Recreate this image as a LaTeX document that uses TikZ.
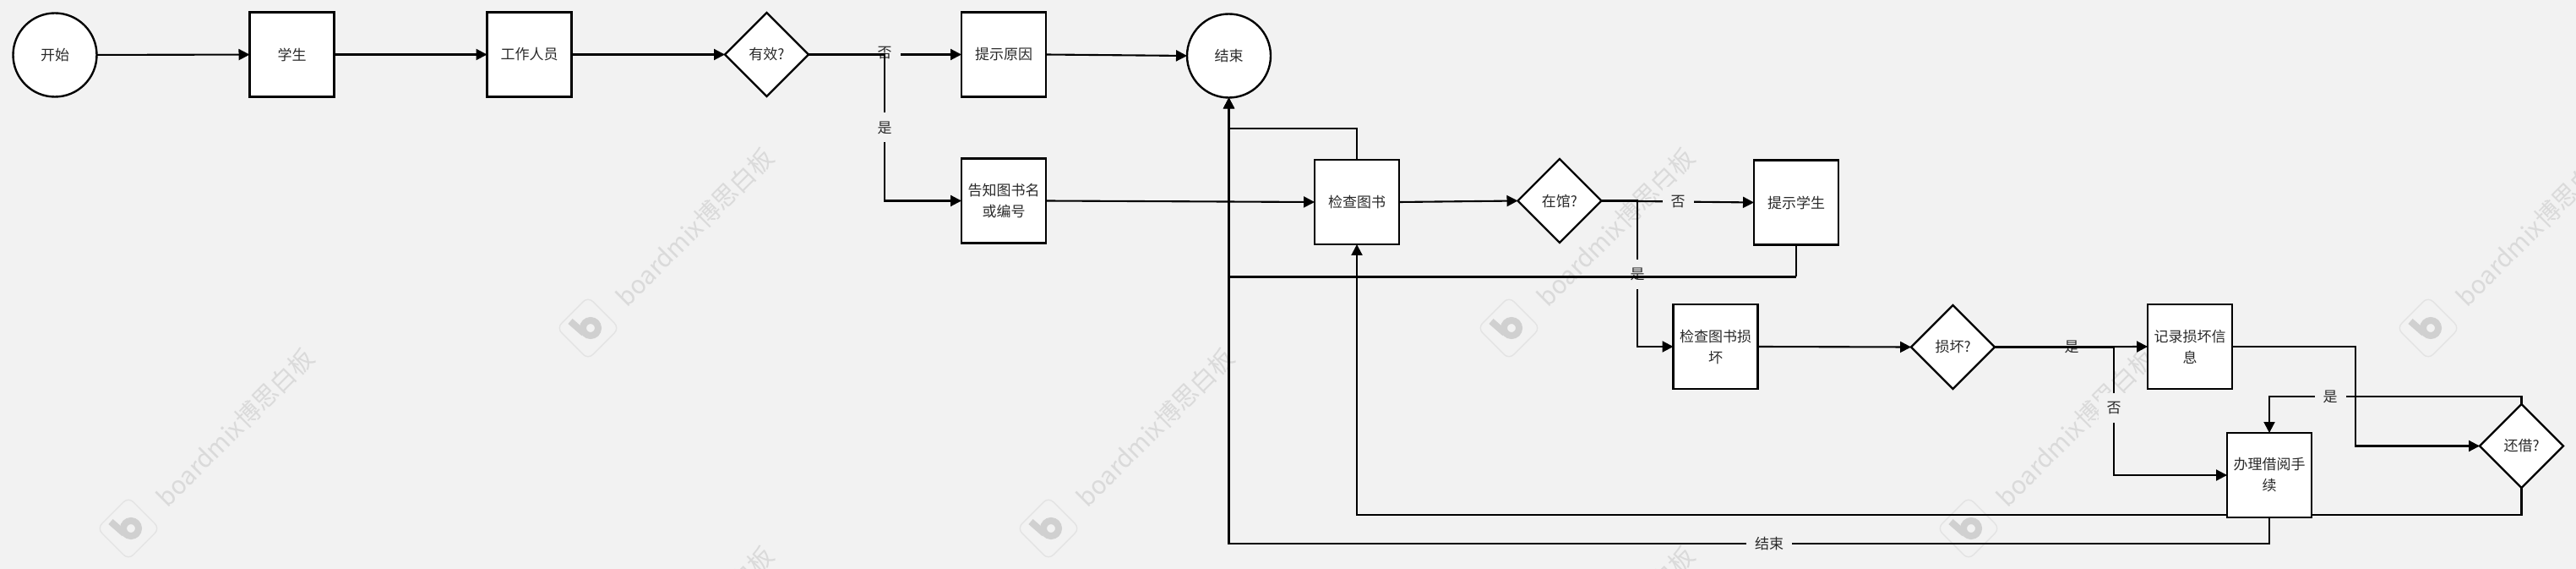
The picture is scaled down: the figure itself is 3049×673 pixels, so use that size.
\documentclass[tikz,border=0pt]{standalone}
\usepackage{fontspec}
\setmainfont{Noto Sans CJK SC}
\usetikzlibrary{shapes.geometric,arrows.meta}
\definecolor{pagebg}{HTML}{F2F2F2}
\definecolor{wmtext}{HTML}{DADADA}
\definecolor{wmline}{HTML}{E3E3E3}
\definecolor{wmglyph}{HTML}{D0D0D0}
\definecolor{ink}{HTML}{2A2A2A}
\pgfdeclarelayer{wmlayer}
\pgfdeclarelayer{connlayer}
\pgfsetlayers{wmlayer,connlayer,main}
\tikzset{
  base/.style={draw=black,fill=white,line width=1.2pt,outer sep=0pt,inner sep=0pt,text=ink,font=\fontsize{8.5pt}{12.5pt}\selectfont,align=center},
  boxn/.style={base,rectangle,minimum width=50pt,minimum height=50pt,text width=47pt},
  circn/.style={base,circle,minimum size=49.5pt},
  diam/.style={base,diamond,aspect=1,minimum width=49.5pt,minimum height=49.5pt},
  conn/.style={draw=black,line width=1.05pt,-{Triangle[length=6.5pt,width=6.5pt]}},
  plainconn/.style={draw=black,line width=1.05pt},
  lbl/.style={fill=pagebg,text=ink,font=\fontsize{8.5pt}{10pt}\selectfont,inner xsep=5pt,inner ysep=0pt,minimum height=17.5pt},
  wmt/.style={text=wmtext,font=\fontsize{14.7pt}{16pt}\selectfont,rotate=45,anchor=west,inner sep=0pt},
}
\begin{document}
\begin{tikzpicture}[x=0.5pt,y=-0.5pt]
\useasboundingbox (0,0) rectangle (3049,673);
\begin{pgfonlayer}{wmlayer}
  \fill[pagebg] (0,0) rectangle (3049,673);
  \foreach \lx/\ly [count=\i] in {152/625,1241/625,2330/625,696/388,1786/388,2874/388,696/859,1786/859}{
    \begin{scope}[shift={(\lx,\ly)}]
      \draw[wmline,line width=0.7pt,rounded corners=4pt] (0,-37) -- (37,0) -- (0,37) -- (-37,0) -- cycle;
      \draw[wmglyph,line width=4pt] (3,0) circle[radius=9];
      \draw[wmglyph,line width=4pt] (-21,-8) -- (-5,6);
      \node[wmt] (wm\i) at (38,-31) {boardmix博思白板};
    \end{scope}
  }
\end{pgfonlayer}

\node[circn] (start) at (65,65) {开始};
\node[boxn] (student) at (345.5,64.5) {学生};
\node[boxn] (staff) at (626.5,64.5) {工作人员};
\node[diam] (valid) at (907.5,64.5) {有效?};
\node[boxn] (reason) at (1188,64.5) {提示原因};
\node[circn] (finish) at (1454.5,66) {结束};
\node[boxn] (tell) at (1188,237.5) {告知图书名\\或编号};
\node[boxn] (check) at (1606,239) {检查图书};
\node[diam] (inlib) at (1846,237.5) {在馆?};
\node[boxn] (notify) at (2126,239.5) {提示学生};
\node[boxn] (dmgcheck) at (2030.5,410) {检查图书损\\坏};
\node[diam] (dmgq) at (2311.5,410.5) {损坏?};
\node[boxn] (record) at (2592,410) {记录损坏信\\息};
\node[boxn] (borrow) at (2686,562) {办理借阅手\\续};
\node[diam] (returnq) at (2984.5,527.5) {还借?};

\coordinate (j1a) at (1047,64.5);
\coordinate (j1b) at (1047,237.5);
\coordinate (j2) at (1606,152);
\coordinate (j2b) at (1454.5,152);
\coordinate (j3a) at (1938,237.5);
\coordinate (j3b) at (1938,410);
\coordinate (j4a) at (2126,327.5);
\coordinate (j4b) at (1454.5,327.5);
\coordinate (j5a) at (2502,410.5);
\coordinate (j5b) at (2502,562);
\coordinate (j6a) at (2788,410);
\coordinate (j6b) at (2788,527.5);
\coordinate (j7a) at (2984.5,469);
\coordinate (j7b) at (2686,469);
\coordinate (j8a) at (2984.5,609);
\coordinate (j8b) at (1606,609);
\coordinate (j9a) at (2686,643);
\coordinate (j9b) at (1454.5,643);

\begin{pgfonlayer}{connlayer}
  \draw[conn] (start) -- (student);
  \draw[conn] (student) -- (staff);
  \draw[conn] (staff) -- (valid);
  \draw[conn] (valid.east) -- (reason.west);
  \node[lbl] (lno1) at (1047,63) {否};
  \draw[conn] (reason.east) -- (finish.west);
  \draw[conn] (valid.east) -- (j1a) -- (j1b) -- (tell.west);
  \node[lbl] (lyes1) at (1047,151) {是};
  \draw[conn] (tell.east) -- (check.west);
  \draw[conn] (check.east) -- (inlib.west);
  \draw[conn] (check.north) -- (j2) -- (j2b) -- (finish.south);
  \draw[conn] (inlib.east) -- (notify.west);
  \node[lbl] (lno2) at (1986,239) {否};
  \draw[conn] (inlib.east) -- (j3a) -- (j3b) -- (dmgcheck.west);
  \node[lbl] (lyes2) at (1938,324.5) {是};
  \draw[plainconn] (notify.south) -- (j4a);
  \draw[conn] (j4a) -- (j4b) -- (finish.south);
  \draw[conn] (dmgcheck.east) -- (dmgq.west);
  \draw[conn] (dmgq.east) -- (record.west);
  \node[lbl] (lyes3) at (2452,410) {是};
  \draw[conn] (dmgq.east) -- (j5a) -- (j5b) -- (borrow.west);
  \node[lbl] (lno3) at (2502,482.5) {否};
  \draw[conn] (record.east) -- (j6a) -- (j6b) -- (returnq.west);
  \draw[conn] (returnq.north) -- (j7a) -- (j7b) -- (borrow.north);
  \node[lbl] (lyes4) at (2758,469) {是};
  \draw[conn] (returnq.south) -- (j8a) -- (j8b) -- (check.south);
  \draw[conn] (borrow.south) -- (j9a) -- (j9b) -- (finish.south);
  \node[lbl] (lend) at (2094,643) {结束};
\end{pgfonlayer}
\end{tikzpicture}
\end{document}
